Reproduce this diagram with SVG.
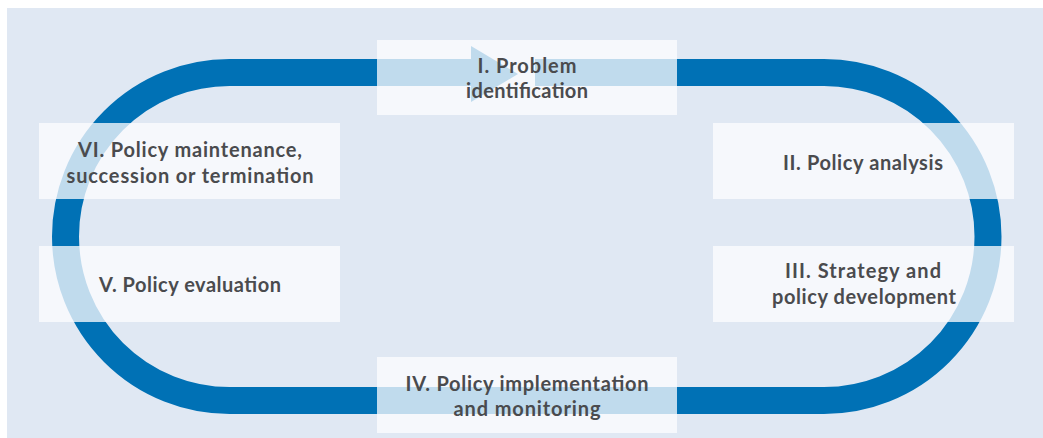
<svg xmlns="http://www.w3.org/2000/svg" width="1043" height="438" viewBox="0 0 1043 438">
<style>
.box{fill:#fdfdff;fill-opacity:0.76}
.lbl{font-family:Lato,"Open Sans","Liberation Sans",sans-serif;font-weight:bold;font-size:20px;fill:#4a4b4e;text-anchor:middle}
.track{fill:none;stroke:#0071b5;stroke-width:27}
</style>
<rect x="7" y="8" width="1036" height="430" fill="#e0e8f3"/>
<g id="connectors">
<path class="track" d="M535,72.5 H824 A164,164 0 0 1 824,400.5 H229.5 A164,164 0 0 1 229.5,72.5 H471"/>
<polygon points="471,46 471,102 518,74" fill="#0071b5"/>
</g>
<g id="node1"><rect class="box" x="377" y="40" width="300" height="75"/>
<text class="lbl" x="527" y="73" textLength="99" lengthAdjust="spacing">I. Problem</text><text class="lbl" x="527" y="98" textLength="122" lengthAdjust="spacing">identification</text></g>
<g id="node2"><rect class="box" x="713" y="123" width="301" height="76"/>
<text class="lbl" x="863" y="170" textLength="160" lengthAdjust="spacing">II. Policy analysis</text></g>
<g id="node3"><rect class="box" x="713" y="246" width="301" height="76"/>
<text class="lbl" x="863" y="278" textLength="156" lengthAdjust="spacing">III. Strategy and</text><text class="lbl" x="864" y="304" textLength="184" lengthAdjust="spacing">policy development</text></g>
<g id="node4"><rect class="box" x="377" y="357" width="300" height="76"/>
<text class="lbl" x="527" y="391" textLength="243" lengthAdjust="spacing">IV. Policy implementation</text><text class="lbl" x="527" y="416" textLength="147" lengthAdjust="spacing">and monitoring</text></g>
<g id="node5"><rect class="box" x="39" y="246" width="301" height="76"/>
<text class="lbl" x="190" y="292" textLength="182" lengthAdjust="spacing">V. Policy evaluation</text></g>
<g id="node6"><rect class="box" x="39" y="123" width="301" height="76"/>
<text class="lbl" x="190" y="157" textLength="224" lengthAdjust="spacing">VI. Policy maintenance,</text><text class="lbl" x="190" y="183" textLength="247" lengthAdjust="spacing">succession or termination</text></g>
</svg>
